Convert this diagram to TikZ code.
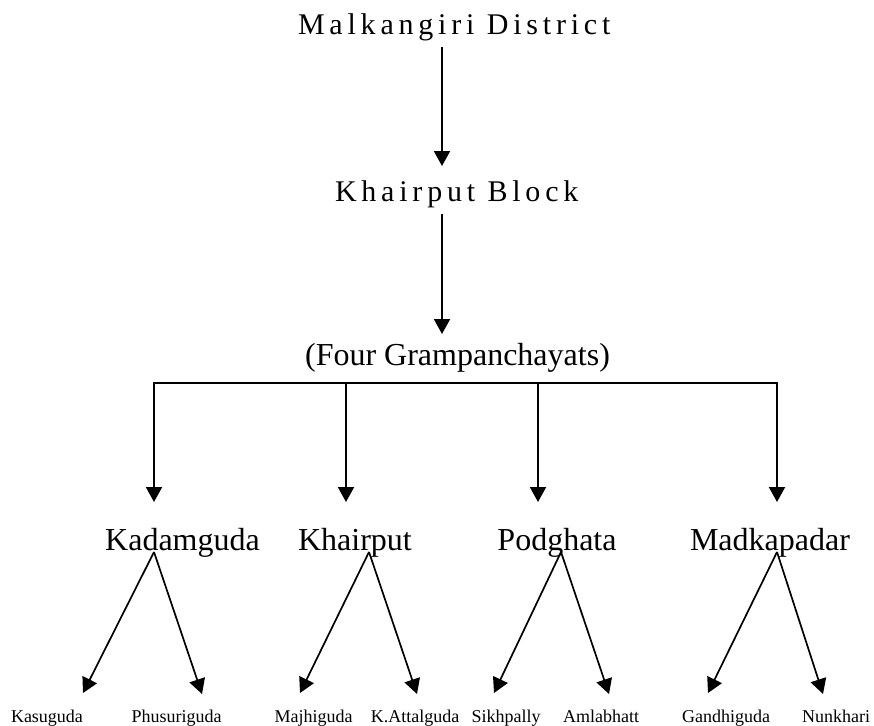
\documentclass[tikz,border=0pt]{standalone}
\usepackage{fontspec}
\setmainfont{Liberation Serif}
\newfontfamily\spacedfont[LetterSpace=16]{Liberation Serif}
\usetikzlibrary{arrows.meta}
\begin{document}
\begin{tikzpicture}[x=1pt,y=-1pt,
  txt/.style={inner sep=0pt,outer sep=0pt},
  head/.style={txt,anchor=base west,font=\spacedfont\fontsize{30}{36}\selectfont},
  mid/.style={txt,anchor=base,font=\fontsize{32}{38}\selectfont},
  leaf/.style={txt,anchor=base,font=\fontsize{18}{22}\selectfont},
  arr/.style={line width=2pt,-{Triangle[length=15pt,width=16pt]}},
  darr/.style={line width=1.7pt,-{Triangle[length=15pt,width=16pt]}},
  bar/.style={line width=2pt,line cap=rect}]
\useasboundingbox (0,0) rectangle (874,725);
% headings
\node[head] (md) at (298,35) {Malkangiri District};
\node[head] (kb) at (335,201) {Khairput Block};
\node[mid] (fg) at (457.5,365) {(Four Grampanchayats)};
% level 3
\node[mid] (n1) at (182.5,550) {Kadamguda};
\node[mid] (n2) at (355,550) {Khairput};
\node[mid] (n3) at (557,550) {Podghata};
\node[mid] (n4) at (770,550) {Madkapadar};
% level 4
\node[leaf] (v1) at (47,722) {Kasuguda};
\node[leaf] (v2) at (176.5,722) {Phusuriguda};
\node[leaf] (v3) at (313.5,722) {Majhiguda};
\node[leaf] (v4) at (415,722) {K.Attalguda};
\node[leaf] (v5) at (506,722) {Sikhpally};
\node[leaf] (v6) at (601,722) {Amlabhatt};
\node[leaf] (v7) at (726,722) {Gandhiguda};
\node[leaf] (v8) at (836,722) {Nunkhari};
% connector coordinates
\coordinate (a1s) at (442,47);   \coordinate (a1e) at (442,166);
\coordinate (a2s) at (442,214);  \coordinate (a2e) at (442,334);
\coordinate (b1) at (154,383); \coordinate (b2) at (346,383);
\coordinate (b3) at (538,383); \coordinate (b4) at (777,383);
\coordinate (t1) at (154,502); \coordinate (t2) at (346,502);
\coordinate (t3) at (538,502); \coordinate (t4) at (777,502);
\coordinate (o1) at (154,552); \coordinate (o2) at (369,552);
\coordinate (o3) at (561,552); \coordinate (o4) at (777,552);
\coordinate (e1) at (83,693);  \coordinate (e2) at (202,694);
\coordinate (e3) at (300,693); \coordinate (e4) at (417,694);
\coordinate (e5) at (494,693); \coordinate (e6) at (609,694);
\coordinate (e7) at (708,693); \coordinate (e8) at (823,694);
% connectors
\draw[arr] (a1s) -- (a1e);
\draw[arr] (a2s) -- (a2e);
\draw[bar] (b1) -- (b4);
\draw[arr] (b1) -- (t1);
\draw[arr] (b2) -- (t2);
\draw[arr] (b3) -- (t3);
\draw[arr] (b4) -- (t4);
\draw[darr] (o1) -- (e1);
\draw[darr] (o1) -- (e2);
\draw[darr] (o2) -- (e3);
\draw[darr] (o2) -- (e4);
\draw[darr] (o3) -- (e5);
\draw[darr] (o3) -- (e6);
\draw[darr] (o4) -- (e7);
\draw[darr] (o4) -- (e8);
\end{tikzpicture}
\end{document}
